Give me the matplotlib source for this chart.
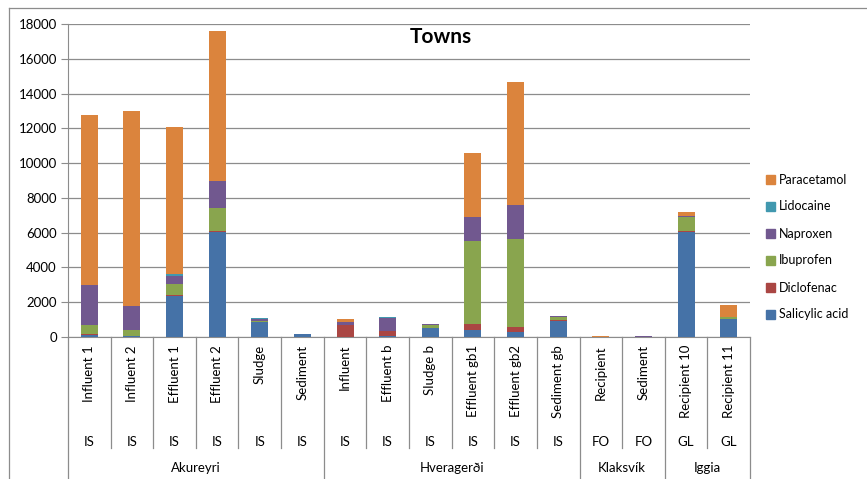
import numpy as np
import matplotlib
matplotlib.use('Agg')
from matplotlib import pyplot as plt
from matplotlib.lines import Line2D
from matplotlib.patches import Patch
from matplotlib.transforms import blended_transform_factory

plt.rcParams['font.family'] = ['Lato', 'DejaVu Sans']

samples = ['Influent 1', 'Influent 2', 'Effluent 1', 'Effluent 2', 'Sludge', 'Sediment',
           'Influent', 'Effluent b', 'Sludge b', 'Effluent gb1', 'Effluent gb2', 'Sediment gb',
           'Recipient', 'Sediment', 'Recipient 10', 'Recipient 11']
countries = ['IS'] * 12 + ['FO', 'FO', 'GL', 'GL']
towns = ['Akureyri', 'Hveragerði', 'Klaksvík', 'Iggia']
town_sizes = [6, 6, 2, 2]

salicylic = [100, 60, 2340, 6010, 860, 150, 20, 40, 530, 384, 270, 900, 10, 5, 6040, 1060]
diclofenac = [60, 10, 100, 90, 30, 0, 650, 290, 10, 384, 330, 60, 0, 0, 70, 0]
ibuprofen = [540, 345, 610, 1300, 50, 0, 30, 0, 130, 4760, 5050, 190, 0, 0, 800, 115]
naproxen = [2300, 1380, 480, 1570, 90, 0, 150, 770, 60, 1380, 1960, 60, 0, 30, 60, 0]
lidocaine = [0, 0, 70, 0, 60, 20, 0, 60, 10, 0, 0, 20, 0, 0, 0, 0]
paracetamol = [9770, 11190, 8460, 8600, 0, 0, 200, 0, 0, 3665, 7080, 0, 40, 0, 190, 670]

series = [('Salicylic acid', salicylic, '#4572A7'),
          ('Diclofenac', diclofenac, '#AA4643'),
          ('Ibuprofen', ibuprofen, '#89A54E'),
          ('Naproxen', naproxen, '#71588F'),
          ('Lidocaine', lidocaine, '#4198AF'),
          ('Paracetamol', paracetamol, '#DB843D')]

W, H = 867, 479
fig = plt.figure(figsize=(W / 100, H / 100), dpi=100)
ax = fig.add_axes([68 / W, (H - 337) / H, (750 - 68) / W, (337 - 24) / H])

x = np.arange(len(samples))
bottom = np.zeros(len(samples))
for name, vals, col in series:
    ax.bar(x, vals, 0.4, bottom=bottom, color=col, label=name, zorder=3)
    bottom += np.array(vals)

ax.set_xlim(-0.5, len(samples) - 0.5)
ax.set_ylim(0, 18000)
ax.set_yticks(np.arange(0, 18001, 2000))
ax.yaxis.grid(True, color='#8c8c8c', lw=0.9, zorder=0)
ax.set_xticks([])
ax.tick_params(axis='y', length=5, color='#8c8c8c', labelsize=9.5, pad=3)
for s in ['top', 'right']:
    ax.spines[s].set_visible(False)
for s in ['left', 'bottom']:
    ax.spines[s].set_color('#8c8c8c')

# multi-level category axis
tr = blended_transform_factory(ax.transData, fig.transFigure)
def fy(p):
    return 1 - p / H

for i in range(len(samples)):
    ax.text(i, fy(345), samples[i], transform=tr, rotation=90, ha='center', va='top', fontsize=9.5)
    ax.text(i, fy(442), countries[i], transform=tr, ha='center', va='center', fontsize=9.5)

bounds = np.cumsum([0] + town_sizes) - 0.5
for i in range(len(samples) + 1):
    xb = i - 0.5
    ylow = 479 if xb in bounds else 448
    fig.add_artist(Line2D([xb, xb], [fy(337), fy(ylow)], transform=tr, color='#8c8c8c', lw=0.9))

for t, n, b in zip(towns, town_sizes, bounds[:-1]):
    ax.text(b + n / 2, fy(468), t, transform=tr, ha='center', va='center', fontsize=9.5)

# chart border
fig.add_artist(Line2D([9 / W, 1], [fy(8), fy(8)], color='#8c8c8c', lw=0.9))
fig.add_artist(Line2D([9 / W, 9 / W], [fy(8), 0], color='#8c8c8c', lw=0.9))

fig.text(441 / W, fy(37), 'Towns', ha='center', va='center', fontsize=15, fontweight='bold')

handles = [Patch(color=c) for _, _, c in series][::-1]
labels = [n for n, _, _ in series][::-1]
fig.legend(handles, labels, loc='center left', bbox_to_anchor=(766 / W, fy(247)),
           frameon=False, fontsize=9, handlelength=0.75, handleheight=0.75,
           handletextpad=0.3, labelspacing=1.2, borderaxespad=0, borderpad=0)

fig.savefig('out.png', dpi=100)
